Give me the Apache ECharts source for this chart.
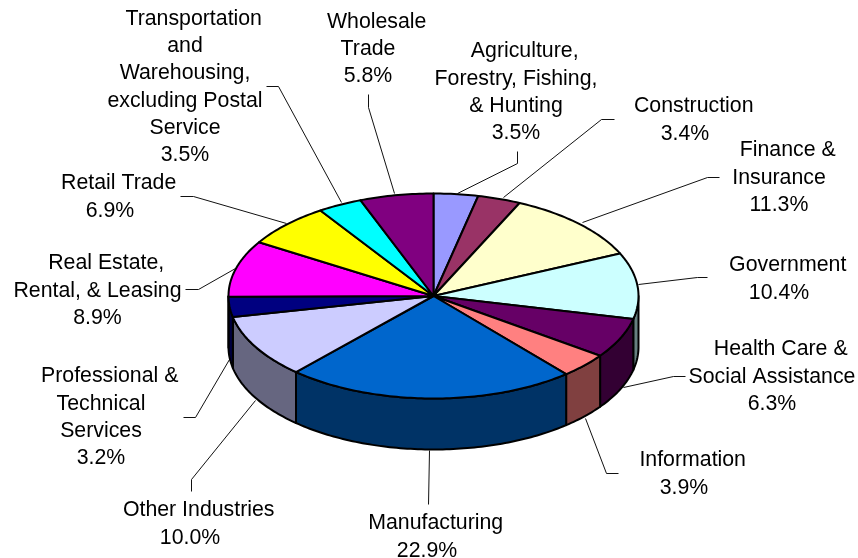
<!DOCTYPE html>
<html>
<head>
<meta charset="utf-8">
<title>Industries</title>
<style>
  html, body { margin: 0; padding: 0; background: #fff; }
  #main { width: 858px; height: 558px; }
</style>
<script src="https://cdn.jsdelivr.net/npm/echarts@6/dist/echarts.min.js"></script>
</head>
<body>
<div id="main"></div>
<script>
var categories = [
  "Agriculture,\nForestry, Fishing,\n& Hunting",
  "Construction",
  "Finance &\nInsurance",
  "Government",
  "Health Care &\nSocial Assistance",
  "Information",
  "Manufacturing",
  "Other Industries",
  "Professional &\nTechnical\nServices",
  "Real Estate,\nRental, & Leasing",
  "Retail Trade",
  "Transportation\nand\nWarehousing,\nexcluding Postal\nService",
  "Wholesale\nTrade"
];
var shares = [3.5, 3.4, 11.3, 10.4, 6.3, 3.9, 22.9, 10.0, 3.2, 8.9, 6.9, 3.5, 5.8];
var colors = ["#9999FF", "#993366", "#FFFFCC", "#CCFFFF", "#660066", "#FF8080", "#0066CC",
  "#CCCCFF", "#000080", "#FF00FF", "#FFFF00", "#00FFFF", "#800080"];
var wallColors = ["#4C4C80", "#4C1933", "#808066", "#668080", "#330033", "#804040", "#003366",
  "#666680", "#000040", "#800080", "#808000", "#008080", "#400040"];

// x centre of the label and y of its first line, same order as categories
var labelPos = [[516, 51.5], [685, 106.5], [779, 150.5], [779, 265.5], [772, 349.5], [684, 460.5], [427, 523.5],
  [190, 510.5], [101, 376.5], [97.5, 263.5], [110, 183.5], [185, 19], [368, 22]];
// the first line of each label sits a bit right of the others in the reference
var firstLineShift = 8.7;
var lineStep = 27.3;
var leaders = [
  [[457, 193], [517, 163], [517, 151]],
  [[503, 197], [601, 119], [614, 119]],
  [[582, 222], [707, 177], [719, 177]],
  [[638, 284], [697, 277], [707, 277]],
  [[623, 387], [673, 376], [685, 376]],
  [[585, 418], [606, 473], [618, 473]],
  [[429, 450], [428, 504]],
  [[255, 400], [191, 479], [191, 491]],
  [[229, 359], [195, 417], [183, 417]],
  [[235, 268], [198, 289], [185, 289]],
  [[286, 223], [193, 196], [180, 196]],
  [[341, 202], [278, 86], [266, 86]],
  [[394, 193], [368, 107], [368, 94]]
];

var cx = 433.5, cy = 296, rx = 205, ry = 102.5, depth = 51;

// cumulative angles in degrees, clockwise from 12 o'clock
var total = shares.reduce(function (a, b) { return a + b; }, 0);
var sliceData = [];
var acc = 0;
shares.forEach(function (v, i) {
  var start = acc / total * 360;
  acc += v;
  sliceData.push({ value: [start, acc / total * 360, i] });
});

function rim(deg, dy) {
  var t = deg * Math.PI / 180;
  return [cx + rx * Math.sin(t), cy - ry * Math.cos(t) + (dy || 0)];
}
function arc(a, b, dy) {
  var pts = [];
  var n = Math.max(2, Math.ceil(Math.abs(b - a)));
  for (var k = 0; k <= n; k++) {
    pts.push(rim(a + (b - a) * k / n, dy));
  }
  return pts;
}

function renderWall(params, api) {
  var a = Math.max(api.value(0), 90);
  var b = Math.min(api.value(1), 270);
  if (b <= a) return null;
  return {
    type: "polygon",
    shape: { points: arc(a, b, 0).concat(arc(b, a, depth)) },
    style: { fill: wallColors[api.value(2)], stroke: "#000", lineWidth: 2, lineJoin: "round" }
  };
}
function renderTop(params, api) {
  return {
    type: "polygon",
    shape: { points: [[cx, cy]].concat(arc(api.value(0), api.value(1), 0)) },
    style: { fill: colors[api.value(2)], stroke: "#000", lineWidth: 2, lineJoin: "round" }
  };
}
function renderLabel(params, api) {
  var i = api.value(2);
  var lines = (categories[i] + "\n" + shares[i].toFixed(1) + "%").split("\n");
  var children = [{
    type: "polyline",
    shape: { points: leaders[i].map(function (p) { return [p[0] + 0.5, p[1] + 0.5]; }) },
    style: { fill: null, stroke: "#111", lineWidth: 1 }
  }];
  lines.forEach(function (line, k) {
    children.push({
      type: "text",
      x: labelPos[i][0] + (k === 0 ? firstLineShift : 0),
      y: labelPos[i][1] + k * lineStep,
      style: {
        text: line,
        fill: "#000",
        font: '21.3px "Liberation Sans", Arial, sans-serif',
        align: "center",
        verticalAlign: "middle"
      }
    });
  });
  return { type: "group", children: children };
}

var chart = echarts.init(document.getElementById("main"), null, { renderer: "canvas" });
chart.setOption({
  backgroundColor: "#fff",
  animation: false,
  tooltip: { show: false },
  series: [
    { type: "custom", coordinateSystem: "none", z: 1, silent: true, data: sliceData, renderItem: renderLabel },
    { type: "custom", coordinateSystem: "none", z: 2, silent: true, data: sliceData, renderItem: renderWall },
    { type: "custom", coordinateSystem: "none", z: 3, silent: true, data: sliceData, renderItem: renderTop }
  ]
});
</script>
</body>
</html>
